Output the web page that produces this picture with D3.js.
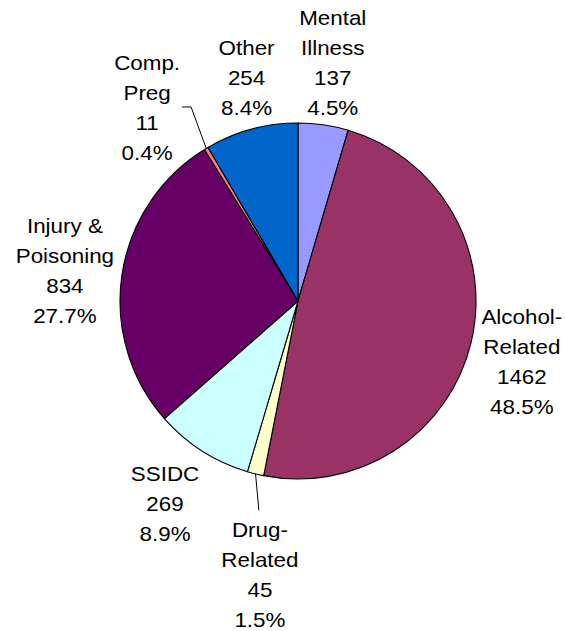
<!DOCTYPE html>
<html>
<head>
<meta charset="utf-8">
<script src="https://cdn.jsdelivr.net/npm/d3@7"></script>
<style>
  html, body { margin: 0; padding: 0; background: #fff; }
  svg { display: block; }
  text { font-family: "Liberation Sans", Arial, sans-serif; font-size: 20px; fill: #000; }
</style>
</head>
<body>
<svg id="chart" width="565" height="631"></svg>
<script>
// ---- data ----
const categories = ["Mental Illness", "Alcohol-Related", "Drug-Related", "SSIDC", "Injury & Poisoning", "Comp. Preg", "Other"];
const labelLines = [["Mental", "Illness"], ["Alcohol-", "Related"], ["Drug-", "Related"], ["SSIDC"], ["Injury &", "Poisoning"], ["Comp.", "Preg"], ["Other"]];
const values = [137, 1462, 45, 269, 834, 11, 254];
const percentLabels = ["4.5%", "48.5%", "1.5%", "8.9%", "27.7%", "0.4%", "8.4%"];
const colors = ["#9999FF", "#993366", "#FFFFCC", "#CCFFFF", "#660066", "#FF8080", "#0066CC"];

// ---- layout (label placement, not data) ----
const cx = 298, cy = 301, radius = 178;
const labelRadius = [241, 232, 277, 243, 235, 245, 229];
const labelAngleShift = [0.1, 1.5, -5.9, 0.6, -1.2, -7, 2.2]; // degrees
const lineHeight = 30;

const svg = d3.select("#chart");
const g = svg.append("g").attr("transform", `translate(${cx},${cy})`);

const pie = d3.pie().sort(null).value(d => d)(values);
const arc = d3.arc().innerRadius(0).outerRadius(radius);

g.selectAll("path.slice")
  .data(pie)
  .join("path")
  .attr("class", "slice")
  .attr("d", arc)
  .attr("fill", (d, i) => colors[i])
  .attr("stroke", "#000")
  .attr("stroke-width", 1.1)
  .attr("stroke-linejoin", "round");

const polar = (a, r) => [Math.sin(a) * r, -Math.cos(a) * r];
const mid = d => (d.startAngle + d.endAngle) / 2;

const labelPos = pie.map((d, i) => polar(mid(d) + labelAngleShift[i] * Math.PI / 180, labelRadius[i]));

// leader lines for small slices
const line = d3.line();
// Comp. Preg (index 5)
{
  const i = 5, d = pie[i];
  const [lx, ly] = labelPos[i];
  const edge = polar(mid(d), radius);
  g.append("path")
    .attr("d", line([[lx + 35, ly - 1], [lx + 44, ly - 1], edge]))
    .attr("fill", "none").attr("stroke", "#000").attr("stroke-width", 1);
}
// Drug-Related (index 2)
{
  const i = 2, d = pie[i];
  const [lx, ly] = labelPos[i];
  const edge = polar(mid(d), radius);
  g.append("path")
    .attr("d", line([edge, [lx - 1, ly - 65]]))
    .attr("fill", "none").attr("stroke", "#000").attr("stroke-width", 1);
}

const labels = g.selectAll("text.lbl")
  .data(pie)
  .join("text")
  .attr("class", "lbl")
  .attr("text-anchor", "middle")
  .attr("transform", (d, i) => `translate(${labelPos[i][0]},${labelPos[i][1]}) scale(1.12,1)`);

labels.each(function(d, i) {
  const lines = labelLines[i].concat([String(values[i]), percentLabels[i]]);
  const n = lines.length;
  const t = d3.select(this);
  lines.forEach((s, k) => {
    t.append("tspan")
      .attr("x", 0)
      .attr("y", (k - (n - 1) / 2) * lineHeight)
      .attr("dy", "0.35em")
      .text(s);
  });
});
</script>
</body>
</html>
